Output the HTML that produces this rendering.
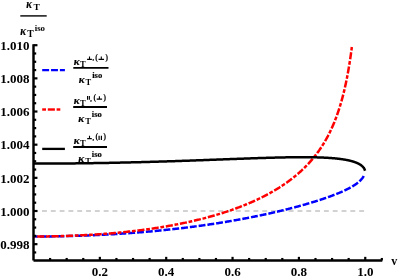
<!DOCTYPE html>
<html><head><meta charset="utf-8"><title>plot</title>
<style>
html,body{margin:0;padding:0;background:#fff;}
svg{display:block;will-change:transform;}
text{font-family:"Liberation Serif",serif;font-weight:bold;fill:#000;}
</style></head><body>
<svg width="398" height="279" viewBox="0 0 398 279">
<rect width="398" height="279" fill="#fff"/>
<line x1="33.2" y1="211.0" x2="364.4" y2="211.0" stroke="#c4c4c4" stroke-width="1.3" stroke-dasharray="4.9 3.91"/>
<g font-size="12">
<line x1="20.3" y1="15.9" x2="46.7" y2="15.9" stroke="#111" stroke-width="1.5"/>
<text transform="translate(26.20,7.90) scale(0.93,1)" font-size="11.5" font-style="italic" stroke="#000" stroke-width="0.18">κ</text>
<text transform="translate(33.50,10.10) scale(1.04,1)" font-size="9.2">T</text>
<text transform="translate(20.20,35.10) scale(0.92,1)" font-size="11.8" font-style="italic" stroke="#000" stroke-width="0.18">κ</text>
<text transform="translate(27.30,37.20) scale(1.04,1)" font-size="9.3">T</text>
<text x="34.70" y="30.80" font-size="8.8">iso</text>

</g>
<g>
<line x1="73.3" y1="67.8" x2="108.5" y2="67.8" stroke="#000" stroke-width="1.85"/>
<text transform="translate(73.80,64.80) scale(0.98,1)" font-size="11.3" font-style="italic" stroke="#000" stroke-width="0.18">κ</text>
<text transform="translate(80.10,67.10) scale(0.95,1)" font-size="9.0">T</text>
<path d="M87.10,59.35 h4.8 M89.50,59.35 v-2.80" stroke="#000" stroke-width="1.1" fill="none"/>
<text x="92.45" y="60.30" font-size="6.6" stroke="#000" stroke-width="0.2">,</text>
<text x="95.20" y="60.20" font-size="7.4" stroke="#000" stroke-width="0.15">(</text>
<path d="M98.55,59.35 h5.5 M101.30,59.35 v-2.80" stroke="#000" stroke-width="1.1" fill="none"/>
<text x="105.40" y="60.20" font-size="7.4" stroke="#000" stroke-width="0.15">)</text>
<text transform="translate(78.70,82.90) scale(0.98,1)" font-size="11.3" font-style="italic" stroke="#000" stroke-width="0.18">κ</text>
<text transform="translate(85.60,85.20) scale(0.95,1)" font-size="9.0">T</text>
<text x="92.20" y="78.25" font-size="8.6" stroke="#000" stroke-width="0.15">iso</text>
<line x1="73.2" y1="107.0" x2="107.0" y2="107.0" stroke="#000" stroke-width="1.85"/>
<text transform="translate(73.80,104.00) scale(0.98,1)" font-size="11.3" font-style="italic" stroke="#000" stroke-width="0.18">κ</text>
<text transform="translate(80.10,106.30) scale(0.95,1)" font-size="9.0">T</text>
<path d="M87.56,99.70 v-3.7 M89.36,99.70 v-3.7" stroke="#000" stroke-width="1.12" fill="none"/>
<text x="90.25" y="100.50" font-size="6.6" stroke="#000" stroke-width="0.2">,</text>
<text x="93.45" y="100.00" font-size="7.4" stroke="#000" stroke-width="0.15">(</text>
<path d="M96.70,99.15 h5.4 M99.40,99.15 v-2.80" stroke="#000" stroke-width="1.1" fill="none"/>
<text x="103.60" y="100.00" font-size="7.4" stroke="#000" stroke-width="0.15">)</text>
<text transform="translate(78.30,122.10) scale(0.98,1)" font-size="11.3" font-style="italic" stroke="#000" stroke-width="0.18">κ</text>
<text transform="translate(85.20,124.40) scale(0.95,1)" font-size="9.0">T</text>
<text x="91.80" y="117.45" font-size="8.6" stroke="#000" stroke-width="0.15">iso</text>
<line x1="73.2" y1="147.0" x2="107.0" y2="147.0" stroke="#000" stroke-width="1.85"/>
<text transform="translate(73.80,144.00) scale(0.98,1)" font-size="11.3" font-style="italic" stroke="#000" stroke-width="0.18">κ</text>
<text transform="translate(80.10,146.30) scale(0.95,1)" font-size="9.0">T</text>
<path d="M87.20,138.60 h4.6 M89.50,138.60 v-2.80" stroke="#000" stroke-width="1.1" fill="none"/>
<text x="92.45" y="140.25" font-size="6.6" stroke="#000" stroke-width="0.2">,</text>
<text x="95.40" y="139.35" font-size="7.4" stroke="#000" stroke-width="0.15">(</text>
<path d="M99.10,140.00 v-4.3 M101.40,140.00 v-4.3" stroke="#000" stroke-width="1.2" fill="none"/>
<text x="103.40" y="139.35" font-size="7.4" stroke="#000" stroke-width="0.15">)</text>
<text transform="translate(78.30,162.10) scale(0.98,1)" font-size="11.3" font-style="italic" stroke="#000" stroke-width="0.18">κ</text>
<text transform="translate(85.20,164.40) scale(0.95,1)" font-size="9.0">T</text>
<text x="91.80" y="157.45" font-size="8.6" stroke="#000" stroke-width="0.15">iso</text>

</g>
<line x1="42.2" y1="70.05" x2="64.9" y2="70.05" stroke="#0000ff" stroke-width="2.3" stroke-dasharray="6.9 1.95"/>
<g stroke="#ff0000" stroke-width="2.4">
<line x1="42.2" y1="109.5" x2="46.0" y2="109.5"/><line x1="47.8" y1="109.5" x2="54.9" y2="109.5"/><line x1="56.6" y1="109.5" x2="60.3" y2="109.5"/>
</g>
<line x1="42.2" y1="148.9" x2="64.9" y2="148.9" stroke="#000" stroke-width="2.3"/>
<path d="M33.50,236.50 L35.16,236.50 L36.81,236.50 L38.46,236.49 L40.10,236.48 L41.74,236.48 L43.37,236.47 L45.00,236.45 L46.62,236.44 L48.23,236.42 L49.84,236.40 L51.44,236.38 L53.04,236.36 L54.63,236.34 L56.22,236.31 L57.80,236.29 L59.38,236.26 L60.95,236.23 L62.52,236.20 L64.08,236.16 L65.63,236.13 L67.18,236.09 L68.73,236.05 L70.27,236.01 L71.80,235.97 L73.33,235.93 L74.85,235.88 L76.37,235.84 L77.88,235.79 L79.39,235.74 L80.89,235.69 L82.39,235.64 L83.88,235.58 L85.36,235.53 L86.85,235.47 L88.32,235.41 L89.79,235.35 L91.26,235.29 L92.72,235.23 L94.17,235.16 L95.62,235.10 L97.07,235.03 L98.51,234.96 L99.94,234.90 L101.37,234.82 L102.79,234.75 L104.21,234.68 L105.62,234.60 L107.03,234.53 L108.44,234.45 L109.83,234.37 L111.23,234.29 L112.62,234.21 L114.00,234.13 L115.38,234.05 L116.75,233.96 L118.12,233.88 L119.48,233.79 L120.84,233.70 L122.19,233.61 L123.54,233.52 L124.88,233.43 L126.22,233.34 L127.55,233.24 L128.88,233.15 L130.20,233.05 L131.52,232.96 L132.83,232.86 L134.14,232.76 L135.45,232.66 L136.74,232.56 L138.04,232.46 L139.33,232.35 L140.61,232.25 L141.89,232.14 L143.16,232.04 L144.43,231.93 L145.70,231.82 L146.96,231.71 L148.21,231.60 L149.46,231.49 L150.70,231.38 L151.94,231.26 L153.18,231.15 L154.41,231.04 L155.64,230.92 L156.86,230.80 L158.07,230.69 L159.29,230.57 L160.49,230.45 L161.69,230.33 L162.89,230.21 L164.08,230.08 L165.27,229.96 L166.46,229.84 L167.63,229.71 L168.81,229.59 L169.98,229.46 L171.14,229.34 L172.30,229.21 L173.46,229.08 L174.61,228.95 L175.75,228.82 L176.90,228.69 L178.03,228.56 L179.17,228.43 L180.29,228.30 L181.42,228.16 L182.53,228.03 L183.65,227.90 L184.76,227.76 L185.86,227.63 L186.96,227.49 L188.06,227.35 L189.15,227.21 L190.24,227.08 L191.32,226.94 L192.40,226.80 L193.47,226.66 L194.54,226.52 L195.61,226.37 L196.67,226.23 L197.72,226.09 L198.77,225.95 L199.82,225.80 L200.86,225.66 L201.90,225.52 L202.94,225.37 L203.97,225.22 L204.99,225.08 L206.01,224.93 L207.03,224.78 L208.04,224.64 L209.05,224.49 L210.05,224.34 L211.05,224.19 L212.04,224.04 L213.04,223.89 L214.02,223.74 L215.00,223.59 L215.98,223.44 L216.95,223.29 L217.92,223.14 L218.89,222.99 L219.85,222.83 L220.81,222.68 L221.76,222.53 L222.71,222.37 L223.65,222.22 L224.59,222.06 L225.53,221.91 L226.46,221.75 L227.39,221.60 L228.31,221.44 L229.23,221.29 L230.14,221.13 L231.05,220.97 L231.96,220.82 L232.86,220.66 L233.76,220.50 L234.66,220.35 L235.55,220.19 L236.43,220.03 L237.31,219.87 L238.19,219.71 L239.07,219.56 L239.94,219.40 L240.80,219.24 L241.67,219.08 L242.52,218.92 L243.38,218.76 L244.23,218.60 L245.08,218.44 L245.92,218.28 L246.76,218.12 L247.59,217.96 L248.42,217.80 L249.25,217.64 L250.07,217.48 L250.89,217.32 L251.70,217.15 L252.51,216.99 L253.32,216.83 L254.13,216.67 L254.92,216.51 L255.72,216.35 L256.51,216.19 L257.30,216.03 L258.08,215.86 L258.86,215.70 L259.64,215.54 L260.41,215.38 L261.18,215.22 L261.95,215.06 L262.71,214.89 L263.47,214.73 L264.22,214.57 L264.97,214.41 L265.72,214.25 L266.46,214.08 L267.20,213.92 L267.94,213.76 L268.67,213.60 L269.39,213.44 L270.12,213.28 L270.84,213.11 L271.56,212.95 L272.27,212.79 L272.98,212.63 L273.69,212.47 L274.39,212.31 L275.09,212.15 L275.78,211.98 L276.47,211.82 L277.16,211.66 L277.85,211.50 L278.53,211.34 L279.21,211.18 L279.88,211.02 L280.55,210.86 L281.22,210.70 L281.88,210.54 L282.54,210.38 L283.20,210.22 L283.85,210.06 L284.50,209.90 L285.15,209.74 L285.79,209.58 L286.43,209.42 L287.06,209.26 L287.70,209.10 L288.32,208.94 L288.95,208.78 L289.57,208.63 L290.19,208.47 L290.81,208.31 L291.42,208.15 L292.03,207.99 L292.63,207.84 L293.23,207.68 L293.83,207.52 L294.43,207.37 L295.02,207.21 L295.61,207.05 L296.19,206.90 L296.77,206.74 L297.35,206.58 L297.93,206.43 L298.50,206.27 L299.07,206.12 L299.63,205.96 L300.20,205.81 L300.76,205.65 L301.31,205.50 L301.86,205.35 L302.41,205.19 L302.96,205.04 L303.50,204.89 L304.04,204.73 L304.58,204.58 L305.11,204.43 L305.65,204.28 L306.17,204.12 L306.70,203.97 L307.22,203.82 L307.74,203.67 L308.25,203.52 L308.76,203.37 L309.27,203.22 L309.78,203.07 L310.28,202.92 L310.78,202.77 L311.28,202.62 L311.77,202.47 L312.26,202.32 L312.75,202.17 L313.23,202.02 L313.72,201.88 L314.19,201.73 L314.67,201.58 L315.14,201.44 L315.61,201.29 L316.08,201.14 L316.54,201.00 L317.00,200.85 L317.46,200.71 L317.92,200.56 L318.37,200.42 L318.82,200.27 L319.27,200.13 L319.71,199.98 L320.15,199.84 L320.59,199.70 L321.02,199.55 L321.45,199.41 L321.88,199.27 L322.31,199.13 L322.73,198.98 L323.16,198.84 L323.57,198.70 L323.99,198.56 L324.40,198.42 L324.81,198.28 L325.22,198.14 L325.62,198.00 L326.02,197.86 L326.42,197.72 L326.82,197.58 L327.21,197.45 L327.60,197.31 L327.99,197.17 L328.38,197.03 L328.76,196.89 L329.14,196.76 L329.52,196.62 L329.89,196.49 L330.26,196.35 L330.63,196.21 L331.00,196.08 L331.37,195.94 L331.73,195.81 L332.09,195.68 L332.44,195.54 L332.80,195.41 L333.15,195.27 L333.50,195.14 L333.84,195.01 L334.19,194.88 L334.53,194.74 L334.87,194.61 L335.20,194.48 L335.54,194.35 L335.87,194.22 L336.20,194.09 L336.52,193.96 L336.85,193.83 L337.17,193.70 L337.49,193.57 L337.81,193.44 L338.12,193.31 L338.43,193.18 L338.74,193.05 L339.05,192.93 L339.35,192.80 L339.66,192.67 L339.96,192.54 L340.25,192.42 L340.55,192.29 L340.84,192.17 L341.13,192.04 L341.42,191.91 L341.71,191.79 L341.99,191.66 L342.27,191.54 L342.55,191.42 L342.83,191.29 L343.10,191.17 L343.37,191.04 L343.64,190.92 L343.91,190.80 L344.18,190.68 L344.44,190.55 L344.70,190.43 L344.96,190.31 L345.22,190.19 L345.47,190.07 L345.72,189.95 L345.97,189.83 L346.22,189.70 L346.47,189.58 L346.71,189.46 L346.95,189.35 L347.19,189.23 L347.43,189.11 L347.67,188.99 L347.90,188.87 L348.13,188.75 L348.36,188.63 L348.59,188.52 L348.81,188.40 L349.04,188.28 L349.26,188.16 L349.48,188.05 L349.69,187.93 L349.91,187.81 L350.12,187.70 L350.33,187.58 L350.54,187.47 L350.75,187.35 L350.95,187.24 L351.16,187.12 L351.36,187.01 L351.56,186.89 L351.76,186.78 L351.95,186.67 L352.15,186.55 L352.34,186.44 L352.53,186.33 L352.72,186.21 L352.90,186.10 L353.09,185.99 L353.27,185.88 L353.45,185.77 L353.63,185.65 L353.80,185.54 L353.98,185.43 L354.15,185.32 L354.32,185.21 L354.49,185.10 L354.66,184.99 L354.83,184.88 L354.99,184.77 L355.16,184.66 L355.32,184.55 L355.48,184.44 L355.63,184.33 L355.79,184.23 L355.94,184.12 L356.10,184.01 L356.25,183.90 L356.40,183.79 L356.54,183.69 L356.69,183.58 L356.83,183.47 L356.98,183.37 L357.12,183.26 L357.26,183.15 L357.40,183.05 L357.53,182.94 L357.67,182.84 L357.80,182.73 L357.93,182.62 L358.06,182.52 L358.19,182.41 L358.32,182.31 L358.44,182.21 L358.57,182.10 L358.69,182.00 L358.81,181.89 L358.93,181.79 L359.05,181.69 L359.16,181.58 L359.28,181.48 L359.39,181.38 L359.50,181.28 L359.61,181.17 L359.72,181.07 L359.83,180.97 L359.94,180.87 L360.04,180.77 L360.14,180.67 L360.25,180.57 L360.35,180.47 L360.45,180.37 L360.54,180.27 L360.64,180.17 L360.74,180.07 L360.83,179.97 L360.92,179.87 L361.01,179.77 L361.10,179.67 L361.19,179.57 L361.28,179.47 L361.37,179.37 L361.45,179.28 L361.54,179.18 L361.62,179.08 L361.70,178.98 L361.78,178.89 L361.86,178.79 L361.94,178.69 L362.01,178.60 L362.09,178.50 L362.16,178.41 L362.24,178.31 L362.31,178.22 L362.38,178.12 L362.45,178.03 L362.52,177.93 L362.58,177.84 L362.65,177.74 L362.71,177.65 L362.78,177.56 L362.84,177.46 L362.90,177.37 L362.96,177.28 L363.02,177.19 L363.08,177.09 L363.14,177.00 L363.20,176.91 L363.25,176.82 L363.31,176.73 L363.36,176.64 L363.41,176.55 L363.46,176.46 L363.51,176.37 L363.56,176.28 L363.61,176.19 L363.66,176.10 L363.71,176.01 L363.75,175.92 L363.80,175.83 L363.84,175.75 L363.88,175.66" fill="none" stroke="#0000ff" stroke-width="2.5" stroke-dasharray="6.9 1.95" stroke-dashoffset="2.55"/>
<path d="M33.50,236.50 L35.11,236.50 L36.71,236.49 L38.31,236.49 L39.90,236.48 L41.49,236.47 L43.07,236.45 L44.65,236.44 L46.22,236.42 L47.79,236.40 L49.35,236.37 L50.90,236.35 L52.46,236.32 L54.00,236.29 L55.54,236.25 L57.07,236.22 L58.60,236.18 L60.13,236.14 L61.65,236.10 L63.16,236.05 L64.67,236.00 L66.17,235.95 L67.67,235.90 L69.16,235.85 L70.65,235.79 L72.13,235.73 L73.61,235.67 L75.08,235.61 L76.55,235.55 L78.01,235.48 L79.47,235.41 L80.92,235.34 L82.37,235.27 L83.81,235.19 L85.25,235.12 L86.68,235.04 L88.10,234.96 L89.52,234.87 L90.94,234.79 L92.35,234.70 L93.76,234.61 L95.16,234.52 L96.55,234.43 L97.95,234.33 L99.33,234.23 L100.71,234.13 L102.09,234.03 L103.46,233.93 L104.83,233.82 L106.19,233.72 L107.54,233.61 L108.90,233.50 L110.24,233.38 L111.58,233.27 L112.92,233.15 L114.25,233.03 L115.58,232.91 L116.90,232.79 L118.22,232.67 L119.53,232.54 L120.84,232.41 L122.14,232.28 L123.44,232.15 L124.73,232.02 L126.02,231.88 L127.30,231.75 L128.58,231.61 L129.85,231.47 L131.12,231.32 L132.39,231.18 L133.65,231.03 L134.90,230.88 L136.15,230.73 L137.40,230.58 L138.64,230.43 L139.87,230.27 L141.10,230.12 L142.33,229.96 L143.55,229.80 L144.77,229.63 L145.98,229.47 L147.19,229.30 L148.39,229.14 L149.59,228.97 L150.78,228.80 L151.97,228.62 L153.16,228.45 L154.34,228.27 L155.51,228.09 L156.68,227.91 L157.85,227.73 L159.01,227.55 L160.17,227.36 L161.32,227.18 L162.47,226.99 L163.61,226.80 L164.75,226.61 L165.88,226.41 L167.01,226.22 L168.14,226.02 L169.26,225.82 L170.37,225.62 L171.49,225.42 L172.59,225.22 L173.70,225.01 L174.80,224.80 L175.89,224.59 L176.98,224.38 L178.06,224.17 L179.14,223.96 L180.22,223.74 L181.29,223.53 L182.36,223.31 L183.42,223.09 L184.48,222.87 L185.54,222.64 L186.59,222.42 L187.63,222.19 L188.67,221.96 L189.71,221.73 L190.74,221.50 L191.77,221.27 L192.80,221.04 L193.82,220.80 L194.83,220.56 L195.84,220.32 L196.85,220.08 L197.85,219.84 L198.85,219.60 L199.85,219.35 L200.84,219.10 L201.82,218.85 L202.80,218.60 L203.78,218.35 L204.75,218.10 L205.72,217.84 L206.69,217.59 L207.65,217.33 L208.61,217.07 L209.56,216.81 L210.51,216.55 L211.45,216.28 L212.39,216.02 L213.33,215.75 L214.26,215.48 L215.19,215.21 L216.11,214.94 L217.03,214.67 L217.95,214.40 L218.86,214.12 L219.77,213.84 L220.67,213.56 L221.57,213.28 L222.46,213.00 L223.36,212.72 L224.24,212.43 L225.13,212.15 L226.01,211.86 L226.88,211.57 L227.75,211.28 L228.62,210.99 L229.48,210.70 L230.34,210.40 L231.20,210.11 L232.05,209.81 L232.90,209.51 L233.74,209.21 L234.58,208.91 L235.42,208.60 L236.25,208.30 L237.08,207.99 L237.91,207.68 L238.73,207.38 L239.54,207.07 L240.36,206.75 L241.17,206.44 L241.97,206.13 L242.77,205.81 L243.57,205.49 L244.37,205.17 L245.16,204.85 L245.94,204.53 L246.73,204.21 L247.51,203.88 L248.28,203.56 L249.05,203.23 L249.82,202.90 L250.59,202.57 L251.35,202.24 L252.10,201.91 L252.86,201.57 L253.61,201.24 L254.35,200.90 L255.09,200.56 L255.83,200.22 L256.57,199.88 L257.30,199.54 L258.03,199.20 L258.75,198.85 L259.47,198.50 L260.19,198.15 L260.90,197.81 L261.61,197.45 L262.32,197.10 L263.02,196.75 L263.72,196.39 L264.42,196.04 L265.11,195.68 L265.80,195.32 L266.48,194.96 L267.16,194.60 L267.84,194.23 L268.51,193.87 L269.19,193.50 L269.85,193.13 L270.52,192.76 L271.18,192.39 L271.83,192.02 L272.49,191.65 L273.14,191.27 L273.79,190.90 L274.43,190.52 L275.07,190.14 L275.71,189.76 L276.34,189.38 L276.97,188.99 L277.60,188.61 L278.22,188.22 L278.84,187.83 L279.46,187.45 L280.07,187.05 L280.68,186.66 L281.29,186.27 L281.89,185.87 L282.49,185.48 L283.09,185.08 L283.68,184.68 L284.27,184.28 L284.86,183.87 L285.44,183.47 L286.02,183.06 L286.60,182.66 L287.17,182.25 L287.74,181.84 L288.31,181.42 L288.88,181.01 L289.44,180.60 L289.99,180.18 L290.55,179.76 L291.10,179.34 L291.65,178.92 L292.20,178.50 L292.74,178.07 L293.28,177.64 L293.81,177.22 L294.35,176.79 L294.88,176.36 L295.40,175.92 L295.93,175.49 L296.45,175.05 L296.97,174.61 L297.48,174.17 L297.99,173.73 L298.50,173.29 L299.01,172.85 L299.51,172.40 L300.01,171.95 L300.51,171.50 L301.00,171.05 L301.49,170.60 L301.98,170.14 L302.46,169.69 L302.94,169.23 L303.42,168.77 L303.90,168.30 L304.37,167.84 L304.84,167.37 L305.31,166.91 L305.77,166.44 L306.23,165.97 L306.69,165.49 L307.15,165.02 L307.60,164.54 L308.05,164.06 L308.50,163.58 L308.94,163.10 L309.38,162.61 L309.82,162.13 L310.26,161.64 L310.69,161.15 L311.12,160.66 L311.55,160.16 L311.97,159.67 L312.40,159.17 L312.82,158.67 L313.23,158.17 L313.65,157.66 L314.06,157.16 L314.47,156.65 L314.87,156.14 L315.27,155.63 L315.67,155.11 L316.07,154.59 L316.47,154.08 L316.86,153.56 L317.25,153.03 L317.64,152.51 L318.02,151.98 L318.40,151.45 L318.78,150.92 L319.16,150.39 L319.53,149.85 L319.90,149.31 L320.27,148.77 L320.64,148.23 L321.00,147.69 L321.36,147.14 L321.72,146.59 L322.08,146.04 L322.43,145.49 L322.78,144.93 L323.13,144.38 L323.47,143.82 L323.82,143.25 L324.16,142.69 L324.50,142.12 L324.83,141.56 L325.17,140.98 L325.50,140.41 L325.83,139.84 L326.15,139.26 L326.48,138.68 L326.80,138.10 L327.12,137.51 L327.43,136.92 L327.75,136.34 L328.06,135.74 L328.37,135.15 L328.68,134.55 L328.98,133.96 L329.28,133.36 L329.58,132.75 L329.88,132.15 L330.18,131.54 L330.47,130.93 L330.76,130.32 L331.05,129.70 L331.34,129.09 L331.62,128.47 L331.90,127.85 L332.18,127.22 L332.46,126.60 L332.73,125.97 L333.01,125.34 L333.28,124.71 L333.55,124.07 L333.81,123.44 L334.08,122.80 L334.34,122.16 L334.60,121.51 L334.86,120.87 L335.11,120.22 L335.37,119.57 L335.62,118.92 L335.87,118.26 L336.11,117.61 L336.36,116.95 L336.60,116.29 L336.84,115.62 L337.08,114.96 L337.32,114.29 L337.55,113.63 L337.78,112.95 L338.01,112.28 L338.24,111.61 L338.47,110.93 L338.69,110.25 L338.92,109.57 L339.14,108.89 L339.35,108.21 L339.57,107.52 L339.79,106.83 L340.00,106.14 L340.21,105.45 L340.42,104.76 L340.62,104.07 L340.83,103.37 L341.03,102.67 L341.23,101.98 L341.43,101.28 L341.63,100.57 L341.82,99.87 L342.02,99.17 L342.21,98.46 L342.40,97.75 L342.59,97.05 L342.77,96.34 L342.96,95.63 L343.14,94.91 L343.32,94.20 L343.50,93.49 L343.68,92.77 L343.85,92.06 L344.02,91.34 L344.20,90.63 L344.37,89.91 L344.53,89.19 L344.70,88.47 L344.86,87.75 L345.03,87.03 L345.19,86.31 L345.35,85.59 L345.51,84.87 L345.66,84.15 L345.82,83.43 L345.97,82.70 L346.12,81.98 L346.27,81.26 L346.42,80.54 L346.57,79.82 L346.71,79.10 L346.85,78.38 L346.99,77.66 L347.13,76.94 L347.27,76.22 L347.41,75.50 L347.55,74.78 L347.68,74.06 L347.81,73.35 L347.94,72.63 L348.07,71.92 L348.20,71.20 L348.32,70.49 L348.45,69.78 L348.57,69.07 L348.69,68.36 L348.81,67.66 L348.93,66.95 L349.05,66.25 L349.16,65.55 L349.28,64.85 L349.39,64.15 L349.50,63.46 L349.61,62.77 L349.72,62.07 L349.83,61.39 L349.93,60.70 L350.04,60.02 L350.14,59.34 L350.24,58.66 L350.34,57.98 L350.44,57.31 L350.54,56.64 L350.64,55.97 L350.73,55.31 L350.83,54.65 L350.92,54.00 L351.01,53.34 L351.10,52.69 L351.19,52.05 L351.28,51.40 L351.36,50.77 L351.45,50.13 L351.53,49.50 L351.61,48.88 L351.69,48.25 L351.77,47.64 L351.85,47.02" fill="none" stroke="#ff0000" stroke-width="2.5" stroke-dasharray="7.1 1.75 3.75 1.75" stroke-dashoffset="10.65"/>
<path d="M33.50,163.60 L35.16,163.60 L36.81,163.60 L38.46,163.60 L40.10,163.59 L41.74,163.59 L43.37,163.59 L45.00,163.58 L46.62,163.58 L48.23,163.57 L49.84,163.57 L51.44,163.56 L53.04,163.55 L54.63,163.54 L56.22,163.53 L57.80,163.52 L59.38,163.51 L60.95,163.50 L62.52,163.49 L64.08,163.48 L65.63,163.47 L67.18,163.45 L68.73,163.44 L70.27,163.42 L71.80,163.41 L73.33,163.39 L74.85,163.38 L76.37,163.36 L77.88,163.34 L79.39,163.33 L80.89,163.31 L82.39,163.29 L83.88,163.27 L85.36,163.25 L86.85,163.23 L88.32,163.21 L89.79,163.19 L91.26,163.17 L92.72,163.15 L94.17,163.12 L95.62,163.10 L97.07,163.08 L98.51,163.05 L99.94,163.03 L101.37,163.01 L102.79,162.98 L104.21,162.95 L105.62,162.93 L107.03,162.90 L108.44,162.88 L109.83,162.85 L111.23,162.82 L112.62,162.79 L114.00,162.77 L115.38,162.74 L116.75,162.71 L118.12,162.68 L119.48,162.65 L120.84,162.62 L122.19,162.59 L123.54,162.56 L124.88,162.53 L126.22,162.50 L127.55,162.47 L128.88,162.44 L130.20,162.40 L131.52,162.37 L132.83,162.34 L134.14,162.31 L135.45,162.28 L136.74,162.24 L138.04,162.21 L139.33,162.18 L140.61,162.14 L141.89,162.11 L143.16,162.07 L144.43,162.04 L145.70,162.00 L146.96,161.97 L148.21,161.93 L149.46,161.90 L150.70,161.86 L151.94,161.83 L153.18,161.79 L154.41,161.76 L155.64,161.72 L156.86,161.68 L158.07,161.65 L159.29,161.61 L160.49,161.57 L161.69,161.54 L162.89,161.50 L164.08,161.46 L165.27,161.43 L166.46,161.39 L167.63,161.35 L168.81,161.31 L169.98,161.28 L171.14,161.24 L172.30,161.20 L173.46,161.16 L174.61,161.13 L175.75,161.09 L176.90,161.05 L178.03,161.01 L179.17,160.97 L180.29,160.94 L181.42,160.90 L182.53,160.86 L183.65,160.82 L184.76,160.78 L185.86,160.74 L186.96,160.71 L188.06,160.67 L189.15,160.63 L190.24,160.59 L191.32,160.55 L192.40,160.51 L193.47,160.48 L194.54,160.44 L195.61,160.40 L196.67,160.36 L197.72,160.32 L198.77,160.29 L199.82,160.25 L200.86,160.21 L201.90,160.17 L202.94,160.13 L203.97,160.10 L204.99,160.06 L206.01,160.02 L207.03,159.98 L208.04,159.95 L209.05,159.91 L210.05,159.87 L211.05,159.83 L212.04,159.80 L213.04,159.76 L214.02,159.72 L215.00,159.69 L215.98,159.65 L216.95,159.61 L217.92,159.58 L218.89,159.54 L219.85,159.50 L220.81,159.47 L221.76,159.43 L222.71,159.40 L223.65,159.36 L224.59,159.33 L225.53,159.29 L226.46,159.26 L227.39,159.22 L228.31,159.19 L229.23,159.15 L230.14,159.12 L231.05,159.08 L231.96,159.05 L232.86,159.02 L233.76,158.98 L234.66,158.95 L235.55,158.92 L236.43,158.89 L237.31,158.85 L238.19,158.82 L239.07,158.79 L239.94,158.76 L240.80,158.72 L241.67,158.69 L242.52,158.66 L243.38,158.63 L244.23,158.60 L245.08,158.57 L245.92,158.54 L246.76,158.51 L247.59,158.48 L248.42,158.45 L249.25,158.42 L250.07,158.39 L250.89,158.36 L251.70,158.34 L252.51,158.31 L253.32,158.28 L254.13,158.25 L254.92,158.23 L255.72,158.20 L256.51,158.17 L257.30,158.15 L258.08,158.12 L258.86,158.09 L259.64,158.07 L260.41,158.04 L261.18,158.02 L261.95,157.99 L262.71,157.97 L263.47,157.95 L264.22,157.92 L264.97,157.90 L265.72,157.88 L266.46,157.85 L267.20,157.83 L267.94,157.81 L268.67,157.79 L269.39,157.77 L270.12,157.75 L270.84,157.73 L271.56,157.71 L272.27,157.69 L272.98,157.67 L273.69,157.65 L274.39,157.63 L275.09,157.61 L275.78,157.59 L276.47,157.58 L277.16,157.56 L277.85,157.54 L278.53,157.53 L279.21,157.51 L279.88,157.49 L280.55,157.48 L281.22,157.46 L281.88,157.45 L282.54,157.44 L283.20,157.42 L283.85,157.41 L284.50,157.40 L285.15,157.38 L285.79,157.37 L286.43,157.36 L287.06,157.35 L287.70,157.34 L288.32,157.33 L288.95,157.32 L289.57,157.31 L290.19,157.30 L290.81,157.29 L291.42,157.28 L292.03,157.27 L292.63,157.26 L293.23,157.26 L293.83,157.25 L294.43,157.24 L295.02,157.24 L295.61,157.23 L296.19,157.23 L296.77,157.22 L297.35,157.22 L297.93,157.21 L298.50,157.21 L299.07,157.21 L299.63,157.20 L300.20,157.20 L300.76,157.20 L301.31,157.20 L301.86,157.20 L302.41,157.20 L302.96,157.20 L303.50,157.20 L304.04,157.20 L304.58,157.20 L305.11,157.20 L305.65,157.20 L306.17,157.20 L306.70,157.21 L307.22,157.21 L307.74,157.21 L308.25,157.22 L308.76,157.22 L309.27,157.23 L309.78,157.23 L310.28,157.24 L310.78,157.25 L311.28,157.25 L311.77,157.26 L312.26,157.27 L312.75,157.28 L313.23,157.29 L313.72,157.29 L314.19,157.30 L314.67,157.31 L315.14,157.32 L315.61,157.34 L316.08,157.35 L316.54,157.36 L317.00,157.37 L317.46,157.38 L317.92,157.40 L318.37,157.41 L318.82,157.42 L319.27,157.44 L319.71,157.45 L320.15,157.47 L320.59,157.48 L321.02,157.50 L321.45,157.52 L321.88,157.53 L322.31,157.55 L322.73,157.57 L323.16,157.59 L323.57,157.61 L323.99,157.63 L324.40,157.65 L324.81,157.67 L325.22,157.69 L325.62,157.71 L326.02,157.73 L326.42,157.75 L326.82,157.77 L327.21,157.79 L327.60,157.82 L327.99,157.84 L328.38,157.87 L328.76,157.89 L329.14,157.91 L329.52,157.94 L329.89,157.97 L330.26,157.99 L330.63,158.02 L331.00,158.05 L331.37,158.07 L331.73,158.10 L332.09,158.13 L332.44,158.16 L332.80,158.19 L333.15,158.22 L333.50,158.25 L333.84,158.28 L334.19,158.31 L334.53,158.34 L334.87,158.37 L335.20,158.40 L335.54,158.43 L335.87,158.47 L336.20,158.50 L336.52,158.53 L336.85,158.57 L337.17,158.60 L337.49,158.64 L337.81,158.67 L338.12,158.71 L338.43,158.74 L338.74,158.78 L339.05,158.82 L339.35,158.85 L339.66,158.89 L339.96,158.93 L340.25,158.97 L340.55,159.01 L340.84,159.05 L341.13,159.09 L341.42,159.12 L341.71,159.17 L341.99,159.21 L342.27,159.25 L342.55,159.29 L342.83,159.33 L343.10,159.37 L343.37,159.41 L343.64,159.46 L343.91,159.50 L344.18,159.54 L344.44,159.59 L344.70,159.63 L344.96,159.68 L345.22,159.72 L345.47,159.77 L345.72,159.81 L345.97,159.86 L346.22,159.90 L346.47,159.95 L346.71,160.00 L346.95,160.05 L347.19,160.09 L347.43,160.14 L347.67,160.19 L347.90,160.24 L348.13,160.29 L348.36,160.34 L348.59,160.39 L348.81,160.44 L349.04,160.49 L349.26,160.54 L349.48,160.59 L349.69,160.64 L349.91,160.69 L350.12,160.74 L350.33,160.79 L350.54,160.85 L350.75,160.90 L350.95,160.95 L351.16,161.00 L351.36,161.06 L351.56,161.11 L351.76,161.17 L351.95,161.22 L352.15,161.27 L352.34,161.33 L352.53,161.38 L352.72,161.44 L352.90,161.50 L353.09,161.55 L353.27,161.61 L353.45,161.66 L353.63,161.72 L353.80,161.78 L353.98,161.84 L354.15,161.89 L354.32,161.95 L354.49,162.01 L354.66,162.07 L354.83,162.12 L354.99,162.18 L355.16,162.24 L355.32,162.30 L355.48,162.36 L355.63,162.42 L355.79,162.48 L355.94,162.54 L356.10,162.60 L356.25,162.66 L356.40,162.72 L356.54,162.78 L356.69,162.84 L356.83,162.90 L356.98,162.96 L357.12,163.03 L357.26,163.09 L357.40,163.15 L357.53,163.21 L357.67,163.27 L357.80,163.34 L357.93,163.40 L358.06,163.46 L358.19,163.52 L358.32,163.59 L358.44,163.65 L358.57,163.71 L358.69,163.78 L358.81,163.84 L358.93,163.90 L359.05,163.97 L359.16,164.03 L359.28,164.09 L359.39,164.16 L359.50,164.22 L359.61,164.29 L359.72,164.35 L359.83,164.42 L359.94,164.48 L360.04,164.55 L360.14,164.61 L360.25,164.68 L360.35,164.74 L360.45,164.81 L360.54,164.87 L360.64,164.94 L360.74,165.00 L360.83,165.07 L360.92,165.13 L361.01,165.20 L361.10,165.26 L361.19,165.33 L361.28,165.40 L361.37,165.46 L361.45,165.53 L361.54,165.59 L361.62,165.66 L361.70,165.72 L361.78,165.79 L361.86,165.86 L361.94,165.92 L362.01,165.99 L362.09,166.05 L362.16,166.12 L362.24,166.19 L362.31,166.25 L362.38,166.32 L362.45,166.38 L362.52,166.45 L362.58,166.52 L362.65,166.58 L362.71,166.65 L362.78,166.71 L362.84,166.78 L362.90,166.85 L362.96,166.91 L363.02,166.98 L363.08,167.04 L363.14,167.11 L363.20,167.17 L363.25,167.24 L363.31,167.30 L363.36,167.37 L363.41,167.44 L363.46,167.50 L363.51,167.57 L363.56,167.63 L363.61,167.70 L363.66,167.76 L363.71,167.82 L363.75,167.89 L363.80,167.95 L363.84,168.02 L363.88,168.08 L363.93,168.15 L363.97,168.21 L364.01,168.27 L364.05,168.34 L364.09,168.40 L364.12,168.46 L364.16,168.53 L364.20,168.59 L364.23,168.65 L364.27,168.72 L364.30,168.78 L364.34,168.84 L364.37,168.90 L364.40,168.96 L364.43,169.03 L364.46,169.09 L364.49,169.15 L364.52,169.21 L364.55,169.27 L364.57,169.33 L364.60,169.39 L364.62,169.45 L364.65,169.51 L364.67,169.57 L364.70,169.63 L364.72,169.69 L364.74,169.75 L364.76,169.81 L364.79,169.86 L364.81,169.92 L364.83,169.98 L364.85,170.04 L364.86,170.09 L364.88,170.15 L364.90,170.21 L364.92,170.26 L364.93,170.32 L364.95,170.37 L364.96,170.43 L364.98,170.48 L364.99,170.54 L365.01,170.59 L365.02,170.64 L365.03,170.70 L365.05,170.75" fill="none" stroke="#000" stroke-width="2.5" stroke-linejoin="round"/>
<g stroke="#000" stroke-width="2.2">
<line x1="50.09" y1="260.45" x2="50.09" y2="257.95"/>
<line x1="66.68" y1="260.45" x2="66.68" y2="257.95"/>
<line x1="83.26" y1="260.45" x2="83.26" y2="257.95"/>
<line x1="99.85" y1="260.45" x2="99.85" y2="256.85"/>
<line x1="116.44" y1="260.45" x2="116.44" y2="257.95"/>
<line x1="133.03" y1="260.45" x2="133.03" y2="257.95"/>
<line x1="149.61" y1="260.45" x2="149.61" y2="257.95"/>
<line x1="166.20" y1="260.45" x2="166.20" y2="256.85"/>
<line x1="182.79" y1="260.45" x2="182.79" y2="257.95"/>
<line x1="199.38" y1="260.45" x2="199.38" y2="257.95"/>
<line x1="215.96" y1="260.45" x2="215.96" y2="257.95"/>
<line x1="232.55" y1="260.45" x2="232.55" y2="256.85"/>
<line x1="249.14" y1="260.45" x2="249.14" y2="257.95"/>
<line x1="265.73" y1="260.45" x2="265.73" y2="257.95"/>
<line x1="282.31" y1="260.45" x2="282.31" y2="257.95"/>
<line x1="298.90" y1="260.45" x2="298.90" y2="256.85"/>
<line x1="315.49" y1="260.45" x2="315.49" y2="257.95"/>
<line x1="332.07" y1="260.45" x2="332.07" y2="257.95"/>
<line x1="348.66" y1="260.45" x2="348.66" y2="257.95"/>
<line x1="365.25" y1="260.45" x2="365.25" y2="256.85"/>
<line x1="381.84" y1="260.45" x2="381.84" y2="257.95"/>
<line x1="33.5" y1="252.45" x2="36.20" y2="252.45"/>
<line x1="33.5" y1="244.16" x2="37.45" y2="244.16"/>
<line x1="33.5" y1="235.87" x2="36.20" y2="235.87"/>
<line x1="33.5" y1="227.58" x2="36.20" y2="227.58"/>
<line x1="33.5" y1="219.29" x2="36.20" y2="219.29"/>
<line x1="33.5" y1="211.00" x2="37.45" y2="211.00"/>
<line x1="33.5" y1="202.71" x2="36.20" y2="202.71"/>
<line x1="33.5" y1="194.42" x2="36.20" y2="194.42"/>
<line x1="33.5" y1="186.13" x2="36.20" y2="186.13"/>
<line x1="33.5" y1="177.84" x2="37.45" y2="177.84"/>
<line x1="33.5" y1="169.55" x2="36.20" y2="169.55"/>
<line x1="33.5" y1="161.26" x2="36.20" y2="161.26"/>
<line x1="33.5" y1="152.97" x2="36.20" y2="152.97"/>
<line x1="33.5" y1="144.68" x2="37.45" y2="144.68"/>
<line x1="33.5" y1="136.39" x2="36.20" y2="136.39"/>
<line x1="33.5" y1="128.10" x2="36.20" y2="128.10"/>
<line x1="33.5" y1="119.81" x2="36.20" y2="119.81"/>
<line x1="33.5" y1="111.52" x2="37.45" y2="111.52"/>
<line x1="33.5" y1="103.23" x2="36.20" y2="103.23"/>
<line x1="33.5" y1="94.94" x2="36.20" y2="94.94"/>
<line x1="33.5" y1="86.65" x2="36.20" y2="86.65"/>
<line x1="33.5" y1="78.36" x2="37.45" y2="78.36"/>
<line x1="33.5" y1="70.07" x2="36.20" y2="70.07"/>
<line x1="33.5" y1="61.78" x2="36.20" y2="61.78"/>
<line x1="33.5" y1="53.49" x2="36.20" y2="53.49"/>
<line x1="33.5" y1="45.20" x2="37.45" y2="45.20"/>
</g>
<path d="M33.5,44.3 L33.5,260.45 M33.5,260.45 L382.3,260.45" fill="none" stroke="#000" stroke-width="2.45"/>
<g font-size="13">
<text x="29.4" y="248.96" text-anchor="end">0.998</text>
<text x="29.4" y="215.80" text-anchor="end">1.000</text>
<text x="29.4" y="182.64" text-anchor="end">1.002</text>
<text x="29.4" y="149.48" text-anchor="end">1.004</text>
<text x="29.4" y="116.32" text-anchor="end">1.006</text>
<text x="29.4" y="83.16" text-anchor="end">1.008</text>
<text x="29.4" y="50.00" text-anchor="end">1.010</text>

<text x="99.85" y="275.9" text-anchor="middle">0.2</text>
<text x="166.20" y="275.9" text-anchor="middle">0.4</text>
<text x="232.55" y="275.9" text-anchor="middle">0.6</text>
<text x="298.90" y="275.9" text-anchor="middle">0.8</text>
<text x="365.25" y="275.9" text-anchor="middle">1.0</text>

<text x="394.2" y="265.0" text-anchor="middle" font-size="12">v</text>
</g>
</svg>
</body></html>
